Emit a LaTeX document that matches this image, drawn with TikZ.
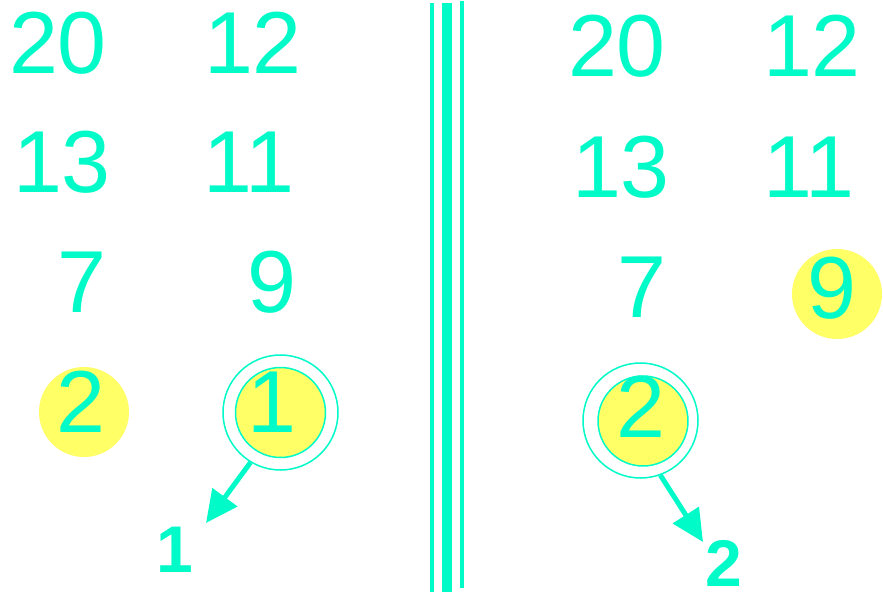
\documentclass[tikz,border=0pt]{standalone}
\usepackage{fontspec}
\setmainfont{Liberation Sans}
\usetikzlibrary{arrows.meta}
\definecolor{mint}{RGB}{0,250,200}
\definecolor{lemon}{RGB}{255,255,102}
\begin{document}
\begin{tikzpicture}[x=1pt, y=-1pt,
    num/.style={text=mint, font=\fontsize{88}{90}\selectfont, anchor=base, inner sep=0pt},
    tag/.style={text=mint, font=\fontsize{66}{70}\selectfont\bfseries, anchor=base, inner sep=0pt},
    spot/.style={circle, fill=lemon, minimum size=90pt, inner sep=0pt},
    ring/.style={circle, draw=mint, line width=1.5pt, minimum size=115pt, inner sep=0pt},
    pointer/.style={mint, line width=5pt, -{Triangle[length=32pt,width=30pt]}}]
    \useasboundingbox (0,0) rectangle (883,596);
    % highlighted spots
    \node[spot] (sl) at (84,412) {};
    \node[spot] (sr) at (837,294) {};
    \node[spot, draw=mint, line width=1.5pt] (cl) at (280.5,412.5) {};
    \node[ring] (rl) at (280.5,412.5) {};
    \node[spot, draw=mint, line width=1.5pt] (cr) at (643,421) {};
    \node[ring] (rr) at (640.5,420.5) {};
    % left half
    \foreach \t/\x/\y in {20/58/74, 12/253/74, 13/62/193, 11/249/193, 7/82/312, 9/272/312, 2/81/432, 1/272/432}{
        \node[num] (l\t) at (\x,\y) {\t};
    }
    % right half
    \foreach \t/\x/\y in {20/617/77, 12/812/77, 13/621/197, 11/809/197, 7/642/317, 9/832/318, 2/641/437}{
        \node[num] (r\t) at (\x,\y) {\t};
    }
    % divider
    \draw[mint, line width=4pt] (432,3) -- (432,592);
    \draw[mint, line width=10pt] (447,3) -- (447,592);
    \draw[mint, line width=4pt] (462,1) -- (462,588);
    % step labels
    \node[tag] (t1) at (175,572) {1};
    \node[tag] (t2) at (724,586) {2};
    \coordinate (p1) at (206,523);
    \coordinate (p2) at (703,542);
    \draw[pointer] (rl.239) -- (p1);
    \draw[pointer] (rr.290) -- (p2);
\end{tikzpicture}
\end{document}
